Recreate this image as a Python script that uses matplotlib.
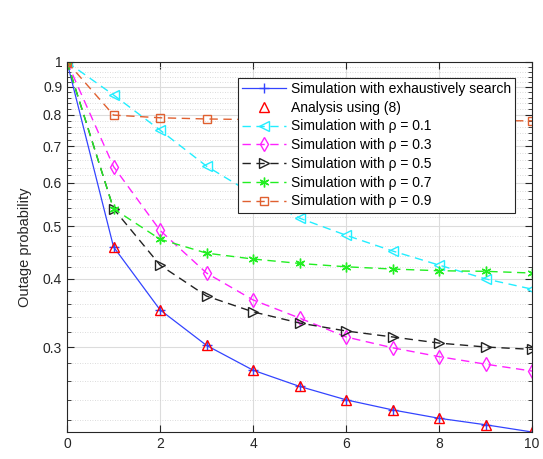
import numpy as np
import matplotlib
matplotlib.use('Agg')
import matplotlib.pyplot as plt
from matplotlib.ticker import FixedLocator, NullFormatter

plt.rcParams['font.family'] = ['Liberation Sans', 'DejaVu Sans']

x = np.arange(0, 11)
exhaustive = [1.0, 0.458, 0.351, 0.302, 0.272, 0.254, 0.240, 0.230, 0.222, 0.216, 0.2095]
analysis = [1.0, 0.458, 0.351, 0.302, 0.272, 0.254, 0.240, 0.230, 0.222, 0.216, 0.2095]
rho_01 = [1.0, 0.870, 0.750, 0.644, 0.572, 0.517, 0.481, 0.450, 0.424, 0.400, 0.383]
rho_03 = [1.0, 0.643, 0.491, 0.410, 0.366, 0.339, 0.313, 0.299, 0.288, 0.279, 0.271]
rho_05 = [1.0, 0.538, 0.424, 0.372, 0.348, 0.332, 0.321, 0.313, 0.305, 0.300, 0.297]
rho_07 = [1.0, 0.538, 0.473, 0.446, 0.435, 0.427, 0.421, 0.417, 0.414, 0.413, 0.410]
rho_09 = [1.0, 0.799, 0.790, 0.786, 0.784, 0.783, 0.782, 0.781, 0.781, 0.780, 0.780]

yticks = [0.3, 0.4, 0.5, 0.6, 0.7, 0.8, 0.9, 1.0]
ytick_labels = ['0.3', '0.4', '0.5', '0.6', '0.7', '0.8', '0.9', '1']

fig = plt.figure(figsize=(5.43, 4.59), dpi=100)
ax = fig.add_axes([0.1234, 0.0588, 0.8566, 0.8062])

ms = 7
ax.plot(x, exhaustive, '-', color='#3344ff', lw=0.9, marker='+', ms=ms,
        label='Simulation with exhaustively search')
ax.plot(x, analysis, linestyle='none', color='red', marker='^', ms=ms,
        mfc='none', mew=1.0, label='Analysis using (8)')
ax.plot(x, rho_01, '--', color='#22eeff', lw=1.0, marker='<', ms=ms,
        mfc='none', dashes=(6, 4), label='Simulation with ρ = 0.1')
ax.plot(x, rho_03, '--', color='#ff22ff', lw=1.0, marker='d', ms=ms,
        mfc='none', dashes=(6, 4), label='Simulation with ρ = 0.3')
ax.plot(x, rho_05, '--', color='#222222', lw=1.0, marker='>', ms=ms,
        mfc='none', dashes=(6, 4), label='Simulation with ρ = 0.5')
ax.plot(x, rho_07, '--', color='#22ee22', lw=1.0, marker=(6, 2, 0), ms=ms,
        dashes=(6, 4), label='Simulation with ρ = 0.7')
ax.plot(x, rho_09, '--', color='#e06030', lw=1.0, marker='s', ms=ms - 1,
        mfc='none', dashes=(6, 4), label='Simulation with ρ = 0.9')

ax.set_yscale('log')
ax.set_xlim(0, 10)
ax.set_ylim(0.2095, 1.0)
ax.set_xticks([0, 2, 4, 6, 8, 10])
ax.yaxis.set_major_locator(FixedLocator(yticks))
ax.set_yticklabels(ytick_labels)
minor = [round(v, 2) for v in np.arange(0.22, 1.0, 0.02) if round(v, 2) not in yticks]
ax.yaxis.set_minor_locator(FixedLocator(minor))
ax.yaxis.set_minor_formatter(NullFormatter())

ax.grid(True, which='major', color='#dcdcdc', lw=0.8)
ax.grid(True, which='minor', axis='y', color='#d0d0d0', lw=0.6, linestyle=(0, (1, 2)))
ax.set_axisbelow(True)

ax.tick_params(which='both', direction='in', top=True, right=True,
               labelsize=10, colors='#262626')
ax.tick_params(which='major', length=5)
ax.tick_params(which='minor', length=3)
for s in ax.spines.values():
    s.set_color('#262626')
    s.set_linewidth(0.8)

ax.set_ylabel('Outage probability', fontsize=10.5, color='#262626', labelpad=8)

leg = ax.legend(loc='upper right', bbox_to_anchor=(0.963, 0.957), borderaxespad=0,
                fontsize=10, handlelength=3.2, labelspacing=0.34, borderpad=0.3,
                handletextpad=0.3, fancybox=False, framealpha=1, edgecolor='#262626')
leg.get_frame().set_linewidth(0.8)

fig.savefig('out.png', dpi=100)
